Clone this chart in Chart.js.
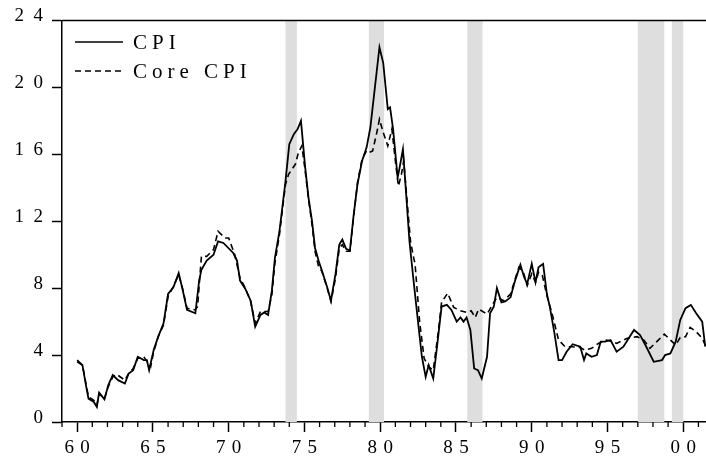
<!DOCTYPE html>
<html>
<head>
<meta charset="utf-8">
<script src="https://cdn.jsdelivr.net/npm/chart.js@4"></script>
<style>
  body { margin: 0; background: #fff; }
</style>
</head>
<body>
<canvas id="myChart" width="706" height="466"></canvas>
<script>
// CPI, solid line (year, annualised inflation %)
const cpiYears = [
  1960.0,1960.35,1960.6,1960.75,1961.1,1961.3,1961.45,1961.8,1962.05,1962.35,1962.7,1963.15,1963.4,1963.7,
  1964.0,1964.4,1964.6,1964.75,1965.05,1965.35,1965.7,1966.0,1966.35,1966.7,1966.95,1967.25,1967.8,
  1968.05,1968.2,1968.55,1969.0,1969.3,1969.65,1970.3,1970.55,1970.75,1971.1,1971.45,1971.75,
  1972.1,1972.35,1972.6,1972.85,1973.05,1973.35,1973.75,1974.0,1974.3,1974.55,1974.77,1975.05,1975.27,1975.5,1975.7,1975.93,
  1976.15,1976.5,1976.75,1977.05,1977.3,1977.5,1977.75,1978.0,1978.25,1978.5,1978.8,1979.1,1979.35,1979.65,1979.95,
  1980.2,1980.5,1980.65,1980.85,1981.15,1981.28,1981.5,1981.65,1981.93,1982.2,1982.53,1982.75,1983.0,1983.2,1983.5,1983.75,
  1984.05,1984.4,1984.7,1985.05,1985.3,1985.5,1985.7,1985.95,1986.2,1986.45,1986.7,1987.05,1987.25,1987.5,1987.7,
  1988.0,1988.25,1988.6,1988.9,1989.25,1989.5,1989.7,1990.0,1990.25,1990.45,1990.75,1991.0,1991.2,1991.5,1991.77,
  1992.0,1992.3,1992.7,1993.2,1993.45,1993.6,1993.95,1994.3,1994.55,1994.85,1995.2,1995.6,
  1996.05,1996.4,1996.75,1997.15,1997.5,1998.05,1998.6,1998.8,1999.15,1999.5,1999.8,2000.15,2000.5,2000.85,2001.25,2001.45
];
const cpiValues = [
  3.7,3.4,2.1,1.4,1.2,0.9,1.75,1.35,2.2,2.8,2.5,2.3,2.9,3.1,
  3.9,3.7,3.7,3.1,4.3,5.1,5.9,7.65,8.05,8.9,7.95,6.7,6.5,
  8.45,9.1,9.65,10.0,10.8,10.7,10.1,9.65,8.45,7.95,7.25,5.7,
  6.4,6.55,6.4,7.85,9.8,11.4,14.4,16.6,17.2,17.5,18.0,15.2,13.4,12.0,10.4,9.65,
  9.05,8.05,7.25,8.85,10.6,10.9,10.35,10.25,12.4,14.2,15.6,16.4,17.6,20.0,22.4,
  21.45,18.7,18.8,17.5,14.6,15.2,16.3,14.4,10.8,8.45,5.7,3.9,2.7,3.4,2.6,4.5,
  6.9,7.0,6.7,6.0,6.25,6.0,6.25,5.5,3.2,3.1,2.6,3.9,6.5,6.9,8.0,
  7.15,7.2,7.45,8.45,9.4,8.65,8.25,9.45,8.35,9.25,9.45,7.65,6.85,5.3,3.7,
  3.7,4.2,4.65,4.5,3.7,4.1,3.9,4.0,4.8,4.8,4.9,4.2,
  4.5,5.0,5.5,5.2,4.6,3.6,3.7,4.0,4.1,4.8,6.1,6.8,7.0,6.5,6.0,4.5
];

// Core CPI, dashed line
const coreYears = [
  1960.0,1960.35,1960.6,1960.75,1961.1,1961.3,1961.45,1961.8,1962.05,1962.35,1962.6,1963.15,1963.4,1963.7,
  1964.0,1964.4,1964.7,1964.85,1965.05,1965.35,1965.7,1966.0,1966.35,1966.7,1966.95,1967.25,1967.8,1967.95,
  1968.2,1968.55,1969.0,1969.3,1969.75,1970.0,1970.4,1970.75,1971.1,1971.45,1971.75,
  1972.1,1972.35,1972.6,1972.85,1973.05,1973.35,1973.75,1973.95,1974.4,1974.6,1974.83,1975.05,1975.27,1975.5,1975.7,1975.93,
  1976.15,1976.5,1976.75,1977.05,1977.3,1977.5,1977.75,1978.0,1978.25,1978.5,1978.8,1979.1,1979.25,1979.5,1979.8,1979.95,
  1980.2,1980.5,1980.77,1981.0,1981.2,1981.4,1981.55,1981.7,1982.0,1982.2,1982.3,1982.6,1982.9,1983.2,1983.5,1983.85,
  1984.05,1984.45,1984.85,1985.3,1985.7,1986.0,1986.27,1986.5,1987.05,1987.4,1987.7,
  1988.15,1988.6,1989.15,1989.45,1989.7,1990.0,1990.25,1990.45,1990.7,1991.0,1991.35,1991.77,
  1992.2,1992.7,1993.2,1993.5,1993.95,1994.4,1994.95,1995.6,
  1996.3,1996.95,1997.4,1997.8,1998.25,1998.75,1999.15,1999.5,1999.8,2000.15,2000.45,2000.85,2001.25,2001.45
];
const coreValues = [
  3.6,3.4,2.2,1.5,1.3,1.0,1.7,1.4,2.1,2.7,2.85,2.5,2.9,3.2,
  3.8,3.9,3.5,3.3,4.2,5.1,5.8,7.5,8.1,8.8,8.0,6.8,6.7,6.9,
  9.9,9.9,10.3,11.4,11.0,11.0,10.0,8.6,8.0,7.2,5.9,
  6.6,6.6,6.6,7.6,9.5,11.2,14.2,14.8,15.4,16.1,16.5,15.0,13.3,11.8,10.2,9.3,
  9.0,8.0,7.2,8.6,10.4,10.6,10.2,10.2,12.3,14.3,15.7,16.2,16.1,16.2,17.4,18.1,
  17.3,16.5,17.5,15.6,14.1,14.8,15.6,14.0,10.8,9.85,9.45,6.0,3.8,3.3,3.1,5.5,
  7.15,7.7,6.85,6.65,6.55,6.65,6.25,6.75,6.45,7.0,7.45,
  7.25,7.65,9.25,8.95,8.15,8.85,8.35,8.95,8.75,7.55,6.45,4.9,
  4.5,4.5,4.45,4.3,4.4,4.7,4.9,4.7,
  5.0,5.1,4.9,4.4,4.8,5.25,4.9,4.6,5.05,5.1,5.65,5.4,5.0,4.6
];

// shaded periods
const shadeStart = [1973.75, 1979.25, 1985.75, 1997.0, 1999.25];
const shadeEnd   = [1974.5, 1980.25, 1986.75, 1998.75, 2000.0];

const xTickYears  = [1960, 1965, 1970, 1975, 1980, 1985, 1990, 1995, 2000];
const xTickLabels = ['60', '65', '70', '75', '80', '85', '90', '95', '00'];
const yTickLabels = ['0', '4', '8', '12', '16', '20', '24'];

const serif = "'Liberation Serif', 'Times New Roman', serif";

function toPoints(xs, ys) {
  var pts = [];
  for (let i = 0; i < xs.length; i++) {
    pts.push({ x: xs[i], y: ys[i] });
  }
  return pts;
}

const shading = {
  id: 'shading',
  beforeDatasetsDraw(chart) {
    const { ctx, chartArea, scales } = chart;
    ctx.save();
    ctx.fillStyle = '#dedede';
    for (let i = 0; i < shadeStart.length; i++) {
      const x1 = scales.x.getPixelForValue(shadeStart[i]);
      const x2 = scales.x.getPixelForValue(shadeEnd[i]);
      ctx.fillRect(x1, chartArea.top, x2 - x1, chartArea.bottom - chartArea.top);
    }
    ctx.restore();
  }
};

const frame = {
  id: 'frame',
  afterDraw(chart) {
    const { ctx, chartArea, scales } = chart;
    ctx.save();
    ctx.strokeStyle = '#000';
    ctx.lineWidth = 1.5;
    // top border
    ctx.beginPath();
    ctx.moveTo(chartArea.left, chartArea.top);
    ctx.lineTo(chart.width, chartArea.top);
    ctx.stroke();
    // minor year ticks
    ctx.lineWidth = 1.3;
    for (let yr = 1959; yr <= 2001; yr++) {
      if (yr % 5 === 0) continue;
      const x = scales.x.getPixelForValue(yr);
      ctx.beginPath();
      ctx.moveTo(x, chartArea.bottom);
      ctx.lineTo(x, chartArea.bottom + 5);
      ctx.stroke();
    }
    // legend
    const rows = chart.data.datasets;
    ctx.font = '21px ' + serif;
    ctx.fillStyle = '#000';
    ctx.textBaseline = 'alphabetic';
    for (let i = 0; i < rows.length; i++) {
      const y = 42 + i * 29;
      ctx.lineWidth = 1.6;
      ctx.setLineDash(rows[i].borderDash || []);
      ctx.beginPath();
      ctx.moveTo(75, y);
      ctx.lineTo(123, y);
      ctx.stroke();
      ctx.setLineDash([]);
      if ('letterSpacing' in ctx) ctx.letterSpacing = '5px';
      ctx.fillText(rows[i].label, 133, y + 7);
      if ('letterSpacing' in ctx) ctx.letterSpacing = '0px';
    }
    ctx.restore();
  }
};

const ctx = document.getElementById('myChart');

new Chart(ctx, {
  type: 'line',
  data: {
    datasets: [{
      label: 'CPI',
      data: toPoints(cpiYears, cpiValues),
      borderColor: '#000',
      borderWidth: 1.8,
      pointRadius: 0,
      tension: 0
    }, {
      label: 'Core CPI',
      data: toPoints(coreYears, coreValues),
      borderColor: '#000',
      borderWidth: 1.6,
      borderDash: [6, 4],
      pointRadius: 0,
      tension: 0
    }]
  },
  options: {
    responsive: false,
    animation: false,
    layout: { padding: { top: 18, right: 0, left: 0, bottom: 0 } },
    plugins: {
      legend: { display: false },
      tooltip: { enabled: false }
    },
    scales: {
      x: {
        type: 'linear',
        min: 1959,
        max: 2001.5,
        afterBuildTicks: function (scale) {
          scale.ticks = xTickYears.map(v => ({ value: v }));
        },
        afterFit: function (scale) { scale.height = 44; },
        grid: { drawOnChartArea: false, tickLength: 10, tickColor: '#000', tickWidth: 1.5 },
        border: { color: '#000', width: 1.5 },
        ticks: {
          color: '#000',
          padding: 5,
          maxRotation: 0,
          autoSkip: false,
          font: { family: serif, size: 19 },
          callback: function (value, index) {
            return xTickLabels[index].split('').join('\u2004');
          }
        }
      },
      y: {
        min: 0,
        max: 24,
        afterFit: function (scale) { scale.width = 62; },
        grid: { drawOnChartArea: false, tickLength: 10, tickColor: '#000', tickWidth: 1.5 },
        border: { color: '#000', width: 1.5 },
        ticks: {
          stepSize: 4,
          color: '#000',
          padding: 9,
          labelOffset: -4,
          font: { family: serif, size: 19 },
          callback: function (value, index) {
            return yTickLabels[index].split('').join('\u2002');
          }
        }
      }
    }
  },
  plugins: [shading, frame]
});
</script>
</body>
</html>
